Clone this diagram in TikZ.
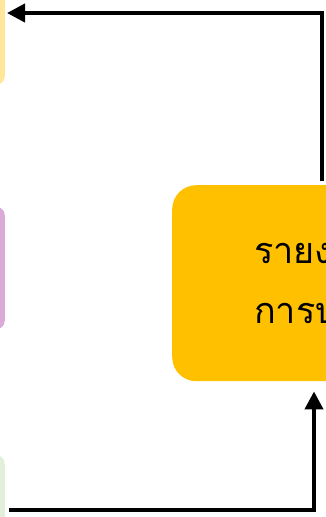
\documentclass[tikz,border=0pt]{standalone}
\usepackage{fontspec}
\newfontfamily\thaifont[Script=Thai]{Loma}
\usetikzlibrary{arrows.meta}
\definecolor{paleyellow}{RGB}{255,230,153}
\definecolor{palepink}{RGB}{220,170,214}
\definecolor{palegreen}{RGB}{226,240,217}
\definecolor{reportorange}{RGB}{255,192,0}
\tikzset{
  sidebox/.style={fill=#1, rounded corners=9pt, anchor=east, minimum width=100pt},
  flow/.style={line width=4pt, -{Triangle[length=18pt,width=18pt]}}
}
\begin{document}
\begin{tikzpicture}[x=1pt, y=-1pt]
        \useasboundingbox (0,0) rectangle (325,517);
        \node[sidebox=paleyellow, minimum height=144pt] (yellowbox) at (5,13) {};
        \node[sidebox=palepink, minimum height=123pt] (pinkbox) at (5,268) {};
        \node[sidebox=palegreen, minimum height=110pt] (greenbox) at (5,510) {};
        \node[fill=reportorange, rounded corners=24pt, anchor=north west, minimum height=196pt, text width=200pt, inner xsep=82pt, align=left, font=\thaifont\fontsize{36}{60}\selectfont] (report) at (172,185) {รายง\\การบ};
        \coordinate (upturn) at (322,0);
        \coordinate (downturn) at (314,0);
        \draw[flow, shorten <=4pt, shorten >=2pt] (report.north -| upturn) |- (yellowbox.east);
        \draw[flow, shorten <=4pt, shorten >=10pt] (greenbox.east) -| (report.south -| downturn);
\end{tikzpicture}
\end{document}
